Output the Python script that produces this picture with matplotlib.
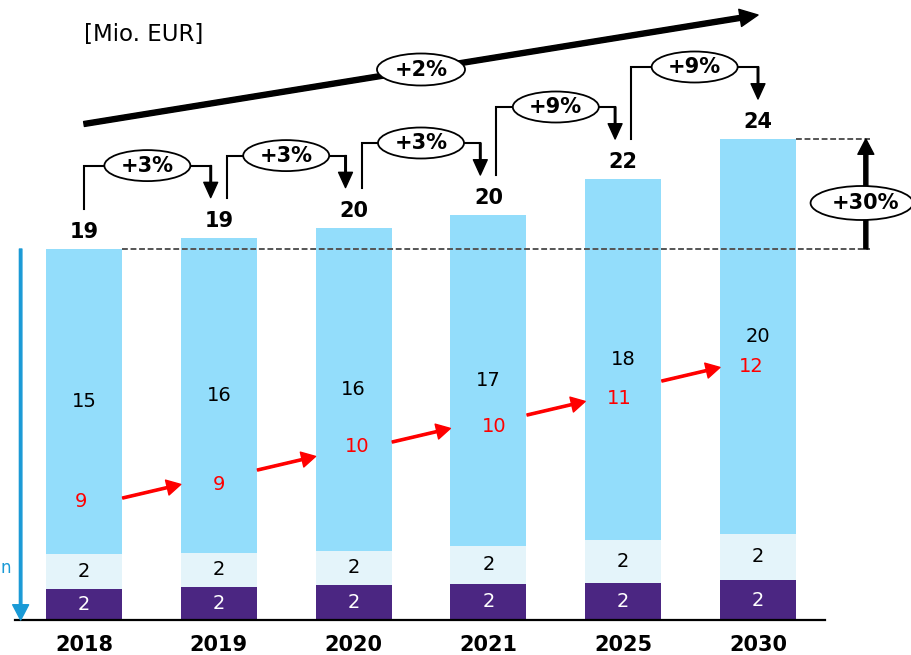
import math
import matplotlib
matplotlib.use("Agg")
import matplotlib.pyplot as plt
from matplotlib.patches import Ellipse

# ---- data -------------------------------------------------------------
years = ["2018", "2019", "2020", "2021", "2025", "2030"]
base_seg = [1.55, 1.67, 1.77, 1.82, 1.87, 2.00]        # dark purple segment
mid_seg = [1.75, 1.70, 1.70, 1.88, 2.13, 2.30]         # pale segment
main_seg = [15.25, 15.75, 16.15, 16.55, 18.05, 19.75]  # light blue segment
red_vals = [9, 9, 10, 10, 11, 12]                      # sub-share shown in red

# ---- layout / style ---------------------------------------------------
PURPLE = "#4B2682"
PALE = "#E4F4FA"
SKY = "#93DDFB"
RED = "#FF0000"
CYAN = "#1A9AD6"
GREY = "#555555"

red_label_y = [5.92, 6.8, 8.65, 9.7, 11.05, 12.7]
red_label_dx = [-0.02, 0.0, 0.03, 0.045, -0.03, -0.047]
red_arrow_y0 = [6.1, 7.5, 8.9, 10.25, 11.95]
red_arrow_rise = 0.68

W, H = 912, 655
x0_px, step_px = 84.0, 134.8
bar_w = 0.564


def half_up(v):
    return int(math.floor(v + 0.5))


plt.rcParams["font.family"] = ["DejaVu Sans"]
fig = plt.figure(figsize=(W / 100, H / 100), dpi=100)
ax = fig.add_axes([0, 35 / H, 1, 620 / H])
ax.set_xlim(-x0_px / step_px, (W - x0_px) / step_px)
ax.set_ylim(0, 31)
ax.axis("off")

x = list(range(len(years)))
bottom_main = [b + m for b, m in zip(base_seg, mid_seg)]
totals = [b + m + s for b, m, s in zip(base_seg, mid_seg, main_seg)]

# stacked bars
ax.bar(x, base_seg, width=bar_w, color=PURPLE, zorder=2)
ax.bar(x, mid_seg, width=bar_w, bottom=base_seg, color=PALE, zorder=2)
ax.bar(x, main_seg, width=bar_w, bottom=bottom_main, color=SKY, zorder=2)

# baseline
ax.plot([-0.512, 5.497], [0, 0], color="black", lw=1.6, clip_on=False, zorder=3)

for i in x:
    ax.text(i, base_seg[i] / 2, str(half_up(base_seg[i])), color="white",
            fontsize=14, ha="center", va="center", zorder=4)
    ax.text(i, base_seg[i] + mid_seg[i] / 2, str(half_up(mid_seg[i])),
            color="black", fontsize=14, ha="center", va="center", zorder=4)
    ax.text(i, bottom_main[i] + main_seg[i] / 2, str(half_up(main_seg[i])),
            color="black", fontsize=14, ha="center", va="center", zorder=4)
    ax.text(i + red_label_dx[i], red_label_y[i], str(red_vals[i]), color=RED,
            fontsize=14, ha="center", va="center", zorder=4)
    ax.text(i, totals[i] + 0.85, str(half_up(totals[i])), color="black",
            fontsize=15, fontweight="bold", ha="center", va="center", zorder=4)
    ax.text(i, -1.25, years[i], color="black", fontsize=15, fontweight="bold",
            ha="center", va="center", clip_on=False)

# red arrows between bars
for i in range(len(years) - 1):
    xs = i + bar_w / 2 + 0.005
    xe = i + 1 - bar_w / 2
    y0 = red_arrow_y0[i]
    ax.annotate("", xy=(xe, y0 + red_arrow_rise), xytext=(xs, y0),
                arrowprops=dict(facecolor=RED, edgecolor=RED, width=1.6,
                                headwidth=11, headlength=10, shrink=0),
                zorder=5)

# year-on-year growth brackets
for i in range(len(years) - 1):
    xl = i + (0.0 if i == 0 else 0.06)
    xr = i + 1 - (0.0 if i == len(years) - 2 else 0.06)
    y_start = totals[i] + 2.0
    y_tip = totals[i + 1] + 2.0
    y_top = max(y_start, y_tip) + 1.6
    ax.plot([xl, xl, xr, xr], [y_start, y_top, y_top, y_tip + 0.6],
            color="black", lw=1.5, solid_joinstyle="miter", zorder=3)
    ax.annotate("", xy=(xr, y_tip), xytext=(xr, y_top),
                arrowprops=dict(facecolor="black", edgecolor="black",
                                width=1.1, headwidth=10, headlength=11,
                                shrink=0), zorder=3)
    xc = (xl + xr) / 2
    ax.add_patch(Ellipse((xc, y_top), 0.638, 1.55, facecolor="white",
                         edgecolor="black", lw=1.3, zorder=4))
    g = half_up((totals[i + 1] / totals[i] - 1) * 100)
    ax.text(xc, y_top, f"+{g}%", fontsize=15, fontweight="bold",
            ha="center", va="center", zorder=5)

# overall CAGR arrow
n_years = int(years[-1]) - int(years[0])
cagr = half_up(((totals[-1] / totals[0]) ** (1 / n_years) - 1) * 100)
a0, a1 = (0.0, 24.8), (5.0, 30.25)
ax.annotate("", xy=a1, xytext=a0,
            arrowprops=dict(facecolor="black", edgecolor="black", width=3.6,
                            headwidth=12.5, headlength=13, shrink=0), zorder=3)
mc = ((a0[0] + a1[0]) / 2, (a0[1] + a1[1]) / 2)
ax.add_patch(Ellipse(mc, 0.653, 1.6, facecolor="white", edgecolor="black",
                     lw=1.3, zorder=4))
ax.text(mc[0], mc[1], f"+{cagr}%", fontsize=15, fontweight="bold",
        ha="center", va="center", zorder=5)

# total change 2018 -> 2030
dash = (0, (3, 1.4))
ax.plot([bar_w / 2, 5.83], [totals[0], totals[0]], color=GREY, lw=1.4,
        ls=dash, zorder=3)
ax.plot([5 + bar_w / 2, 5.83], [totals[-1], totals[-1]], color=GREY, lw=1.4,
        ls=dash, zorder=3)
ax.annotate("", xy=(5.80, totals[-1]), xytext=(5.80, totals[0]),
            arrowprops=dict(facecolor="black", edgecolor="black", width=2.9,
                            headwidth=11.5, headlength=11, shrink=0), zorder=3)
tot = half_up((totals[-1] / totals[0] - 1) * 100)
ax.add_patch(Ellipse((5.77, 20.85), 0.76, 1.7, facecolor="white",
                     edgecolor="black", lw=1.3, zorder=4, clip_on=False))
ax.text(5.80, 20.85, f"+{tot}%", fontsize=15, fontweight="bold",
        ha="center", va="center", zorder=5)

# left-hand blue arrow
ax.annotate("", xy=(-0.47, 0), xytext=(-0.47, totals[0]),
            arrowprops=dict(facecolor=CYAN, edgecolor=CYAN, width=1.8,
                            headwidth=11.5, headlength=11, shrink=0), zorder=3)
ax.text(-0.621, 2.6, "n", color=CYAN, fontsize=12, ha="left", va="center")

# unit label
ax.text(0.0, 29.25, "[Mio. EUR]", fontsize=16.5, ha="left", va="center")

fig.savefig("out.png", dpi=100)
